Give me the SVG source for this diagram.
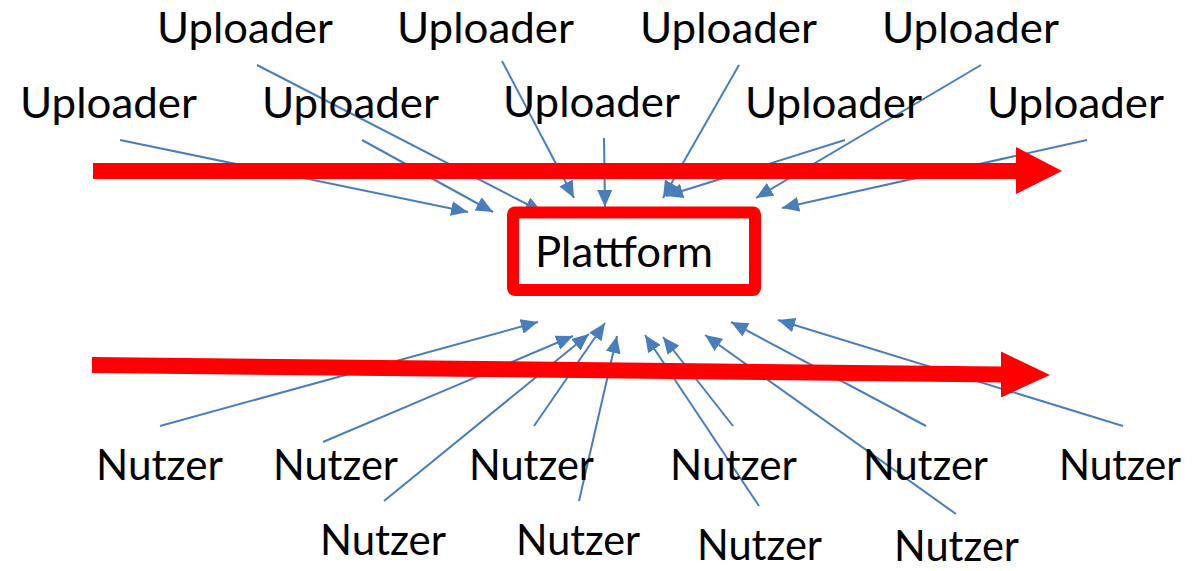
<svg xmlns="http://www.w3.org/2000/svg" width="1194" height="571" viewBox="0 0 1194 571">
<style>
.t{font-family:Lato,"Liberation Sans",sans-serif;font-size:43px;fill:#000}
.c{stroke:#4A7EBB;stroke-width:2;fill:none;marker-end:url(#ah)}
.flow{fill:#FF0000}
</style>
<defs>
<marker id="ah" markerUnits="userSpaceOnUse" markerWidth="17" markerHeight="15" refX="17" refY="7.5" orient="auto"><path d="M0,0 L17,7.5 L0,15 z" fill="#4A7EBB"/></marker>
</defs>
<rect width="1194" height="571" fill="#fff"/>
<g id="connectors">
<line class="c" x1="120" y1="140" x2="468" y2="212"/>
<line class="c" x1="257" y1="65" x2="542" y2="212"/>
<line class="c" x1="362" y1="140" x2="493" y2="212"/>
<line class="c" x1="502" y1="61" x2="574" y2="198"/>
<line class="c" x1="604" y1="138" x2="605" y2="207"/>
<line class="c" x1="739" y1="65" x2="663" y2="198"/>
<line class="c" x1="845" y1="140" x2="666" y2="196"/>
<line class="c" x1="981" y1="65" x2="756" y2="198"/>
<line class="c" x1="1087" y1="140" x2="782" y2="208"/>
<line class="c" x1="160" y1="426" x2="538" y2="322"/>
<line class="c" x1="323" y1="442" x2="573" y2="336"/>
<line class="c" x1="384" y1="501" x2="589" y2="334"/>
<line class="c" x1="534" y1="426" x2="605" y2="323"/>
<line class="c" x1="579" y1="501" x2="617" y2="336"/>
<line class="c" x1="759" y1="506" x2="645" y2="335"/>
<line class="c" x1="733" y1="426" x2="663" y2="337"/>
<line class="c" x1="956" y1="514" x2="705" y2="335"/>
<line class="c" x1="926" y1="426" x2="731" y2="322"/>
<line class="c" x1="1123" y1="426" x2="778" y2="320"/>
</g>
<g id="flows">
<polygon class="flow" points="93,163 1016,163 1016,147 1062,171 1016,194 1016,179 93,179"/>
<polygon class="flow" points="92,357 1001,366.5 1001,351.5 1050,375 1001,397.5 1001,382.5 92,373"/>
</g>
<g id="platform">
<rect x="513" y="212.5" width="242" height="77.5" rx="2" fill="#fff" stroke="#FF0000" stroke-width="12" stroke-linejoin="round"/>
<text class="t" x="535" y="267" textLength="178" lengthAdjust="spacingAndGlyphs">Plattform</text>
</g>
<g id="uploader1"><text class="t" x="157" y="43" textLength="176" lengthAdjust="spacingAndGlyphs">Uploader</text></g>
<g id="uploader2"><text class="t" x="397" y="43" textLength="177" lengthAdjust="spacingAndGlyphs">Uploader</text></g>
<g id="uploader3"><text class="t" x="640" y="43" textLength="177" lengthAdjust="spacingAndGlyphs">Uploader</text></g>
<g id="uploader4"><text class="t" x="882" y="43" textLength="177" lengthAdjust="spacingAndGlyphs">Uploader</text></g>
<g id="uploader5"><text class="t" x="20" y="118" textLength="177" lengthAdjust="spacingAndGlyphs">Uploader</text></g>
<g id="uploader6"><text class="t" x="262" y="118" textLength="177" lengthAdjust="spacingAndGlyphs">Uploader</text></g>
<g id="uploader7"><text class="t" x="503" y="117" textLength="177" lengthAdjust="spacingAndGlyphs">Uploader</text></g>
<g id="uploader8"><text class="t" x="745" y="118" textLength="177" lengthAdjust="spacingAndGlyphs">Uploader</text></g>
<g id="uploader9"><text class="t" x="987" y="118" textLength="177" lengthAdjust="spacingAndGlyphs">Uploader</text></g>
<g id="nutzer1"><text class="t" x="96" y="480" textLength="127" lengthAdjust="spacingAndGlyphs">Nutzer</text></g>
<g id="nutzer2"><text class="t" x="273" y="480" textLength="125" lengthAdjust="spacingAndGlyphs">Nutzer</text></g>
<g id="nutzer3"><text class="t" x="469" y="480" textLength="125" lengthAdjust="spacingAndGlyphs">Nutzer</text></g>
<g id="nutzer4"><text class="t" x="670" y="480" textLength="127" lengthAdjust="spacingAndGlyphs">Nutzer</text></g>
<g id="nutzer5"><text class="t" x="863" y="480" textLength="125" lengthAdjust="spacingAndGlyphs">Nutzer</text></g>
<g id="nutzer6"><text class="t" x="1059" y="480" textLength="122" lengthAdjust="spacingAndGlyphs">Nutzer</text></g>
<g id="nutzer7"><text class="t" x="320" y="555" textLength="126" lengthAdjust="spacingAndGlyphs">Nutzer</text></g>
<g id="nutzer8"><text class="t" x="516" y="555" textLength="124" lengthAdjust="spacingAndGlyphs">Nutzer</text></g>
<g id="nutzer9"><text class="t" x="697" y="560" textLength="125" lengthAdjust="spacingAndGlyphs">Nutzer</text></g>
<g id="nutzer10"><text class="t" x="894" y="561" textLength="125" lengthAdjust="spacingAndGlyphs">Nutzer</text></g>
</svg>
